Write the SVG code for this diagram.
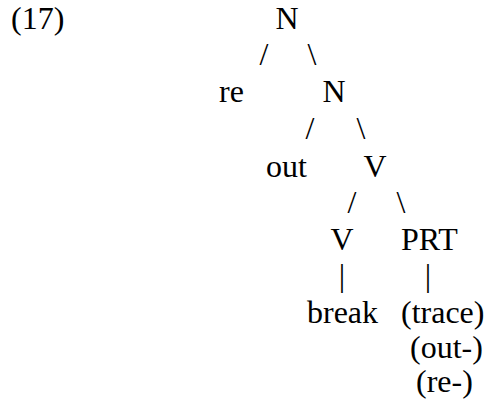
<svg xmlns="http://www.w3.org/2000/svg" width="488" height="406" viewBox="0 0 488 406">
<style>
text{font-family:'Liberation Serif','Times New Roman',serif;font-size:32px;fill:#000}
.m{text-anchor:middle}
</style>
<rect width="488" height="406" fill="#fff"/>
<text x="11" y="29">(17)</text>
<g id="n1"><text class="m" x="287" y="29">N</text></g>
<g id="re"><text x="219" y="102">re</text></g>
<g id="n2"><text class="m" x="334" y="102">N</text></g>
<g id="out"><text x="266" y="177">out</text></g>
<g id="v1"><text class="m" x="375" y="177">V</text></g>
<g id="v2"><text class="m" x="342" y="250">V</text></g>
<g id="prt"><text x="401" y="250">PRT</text></g>
<g id="break"><text x="307" y="323">break</text></g>
<g id="trace"><text x="401" y="323">(trace)</text><text x="410" y="358">(out-)</text><text x="416" y="392">(re-)</text></g>
<g id="connectors">
<text class="m" x="264" y="65">/</text>
<text class="m" x="312" y="65">\</text>
<text class="m" x="310" y="139">/</text>
<text class="m" x="361" y="139">\</text>
<text class="m" x="352" y="213">/</text>
<text class="m" x="401" y="213">\</text>
<text class="m" x="342" y="286">|</text>
<text class="m" x="428" y="286">|</text>
</g>
</svg>
